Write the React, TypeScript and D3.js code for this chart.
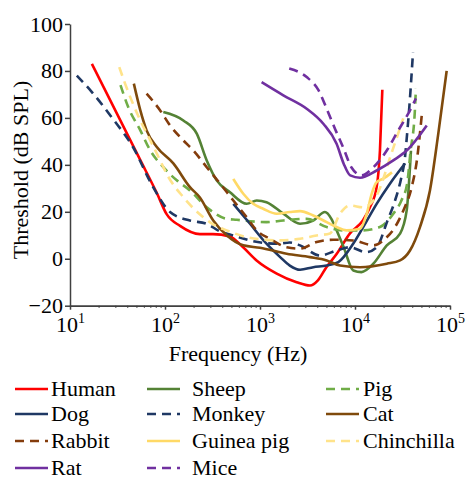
import React, { useEffect, useRef } from 'react';
import * as d3 from 'd3';

// --- data: [frequency Hz, threshold dB SPL] ---
const human = [[17, 83], [55, 42], [82, 28], [104, 19], [144, 14], [233, 10.5], [320, 10.5], [480, 9.5], [660, 5], [920, -0.7], [1500, -6.3], [2430, -10], [3360, -11.4], [4070, -9.2], [5000, -3.6], [6400, 2], [8850, 10.8], [12100, 16.3], [14400, 22], [16900, 30.5], [18300, 46], [19400, 72]];
const dog = [[524, 23.4], [785, 14.9], [1170, 6.4], [1630, 0.7], [2060, -2.9], [2640, -4.7], [3640, -3.6], [5035, -2.9], [6680, -1.4], [9600, 6.5], [12200, 13.5], [16900, 23.4], [23400, 32.1], [33600, 40.6]];
const rabbit = [[64, 70.3], [89, 63.2], [113, 56.8], [156, 50.4], [199, 46.1], [275, 39], [380, 32], [524, 24.8], [724, 17.7], [923, 12.1], [1270, 8.5], [1910, 4.9], [2640, 4.3], [3940, 7.1], [5900, 8.1], [9600, 7.8], [15600, 5.7], [20700, 8.5], [26400, 13.5], [32300, 20.6], [39500, 30.5], [44800, 41.9], [50600, 61.8]];
const rat = [[1040, 75.2], [1760, 69.6], [3100, 63.9], [4640, 57.5], [6400, 49], [7600, 40.5], [8900, 35.5], [11300, 34.5], [16900, 37.6], [25300, 41.9], [35000, 46.1], [56900, 56.8]];
const sheep = [[96, 62.5], [156, 58.9], [216, 53.3], [275, 41.9], [350, 33.4], [483, 28.3], [724, 23.4], [923, 24.8], [1170, 24.1], [1760, 19.2], [2640, 14.9], [3640, 16.3], [4830, 19.9], [5640, 17], [6400, 12.1], [7600, 4.9], [9600, -5], [11700, -5.7], [15600, -2.1], [21600, 5.7], [29800, 10.7], [35000, 20.6], [38800, 46]];
const monkey = [[11.8, 78], [17, 71], [28, 59.8], [46, 47.6], [75, 30.5], [113, 19.9], [183, 16.3], [275, 14.9], [380, 11.6], [524, 9.9], [785, 7.8], [1500, 6.4], [2060, 6.9], [2640, 5.7], [4270, 1.4], [6400, 3.5], [8850, 4.9], [13100, 2.8], [16900, 4.9], [22000, 16.3], [26400, 24.8], [30800, 34.8], [33600, 43.3], [35400, 53.4], [37300, 64.6], [40800, 88]];
const guineaPig = [[524, 34], [667, 27.7], [848, 23.4], [1080, 21.3], [1500, 19.2], [2060, 19.9], [2640, 20.3], [3640, 18.4], [5035, 15.6], [6400, 13.5], [8150, 12.1], [11300, 12.8], [13300, 19.2], [15000, 27.7], [16900, 32.6], [19800, 34.1], [24500, 36.8]];
const mice = [[2030, 81], [3100, 77.4], [4140, 71.7], [5035, 63.9], [6150, 55.4], [7600, 46.9], [9150, 39], [11800, 35.5], [15100, 38.4], [21600, 46.1], [27400, 53.4], [39500, 64.6], [43800, 68.3]];
const pig = [[34, 74], [41, 64.6], [55, 54.7], [70, 46.1], [96, 39], [133, 33.4], [183, 29.1], [275, 21.9], [446, 17], [570, 16.6], [785, 16], [1170, 15.6], [1760, 16.3], [3100, 17], [5035, 13.5], [7900, 12], [12200, 12.1], [18300, 13.5], [25300, 19.2], [30800, 24.8], [35400, 32], [38500, 46.1], [42500, 61.8], [43800, 72.6]];
const cat = [[47, 74.6], [55, 63.2], [64, 54.7], [82, 47.6], [123, 40.5], [183, 30.5], [233, 26.1], [322, 16.3], [446, 10], [667, 5.7], [1000, 4.7], [1910, 2.1], [3360, 0.7], [5035, -0.7], [6950, -2.9], [11300, -3.6], [21600, -2.1], [29800, -0.7], [37900, 3.5], [48300, 13.5], [61500, 29.1], [75300, 53.3], [92200, 80]];
const chinchilla = [[33, 81.6], [38, 74.6], [55, 58.9], [70, 50.4], [89, 41.9], [104, 36.2], [156, 26.2], [253, 17.7], [322, 14.6], [446, 12.1], [724, 9.2], [1080, 8.2], [1500, 7.8], [2640, 8.5], [3940, 9.9], [5450, 10.8], [6950, 19.2], [8850, 22.7], [12200, 21.9], [16900, 27], [24200, 44.9], [32200, 59.8]];

const freqTicks = [10, 100, 1000, 10000, 100000];
const freqExponents = ['1', '2', '3', '4', '5'];
const dbTicks = [-20, 0, 20, 40, 60, 80, 100];

// legend is laid out row by row, three per row
const series = [
  { name: 'Human', data: human, color: '#FF0000', dashed: false },
  { name: 'Sheep', data: sheep, color: '#548235', dashed: false },
  { name: 'Pig', data: pig, color: '#70AD47', dashed: true },
  { name: 'Dog', data: dog, color: '#1F3864', dashed: false },
  { name: 'Monkey', data: monkey, color: '#1F3864', dashed: true },
  { name: 'Cat', data: cat, color: '#7F4A0C', dashed: false },
  { name: 'Rabbit', data: rabbit, color: '#843C0C', dashed: true },
  { name: 'Guinea pig', data: guineaPig, color: '#FFD966', dashed: false },
  { name: 'Chinchilla', data: chinchilla, color: '#FFE38A', dashed: true },
  { name: 'Rat', data: rat, color: '#7030A0', dashed: false },
  { name: 'Mice', data: mice, color: '#7030A0', dashed: true },
];

const FONT = "'Liberation Serif', 'Times New Roman', serif";

const App = () => {
  const ref = useRef(null);

  useEffect(() => {
    const svg = d3.select(ref.current);
    svg.selectAll('*').remove();

    const x = d3.scaleLog().domain([10, 100000]).range([70, 450]);
    const y = d3.scaleLinear().domain([-20, 100]).range([305.7, 24]);

    // y axis
    const yAxis = svg.append('g').attr('transform', 'translate(70,0)')
      .call(d3.axisLeft(y).tickValues(dbTicks).tickSize(5).tickSizeOuter(0).tickPadding(2));
    yAxis.attr('font-family', null).attr('font-size', null);
    yAxis.selectAll('text').attr('fill', '#000');
    yAxis.selectAll('line, path').attr('stroke', '#404040').attr('stroke-width', 1.5);

    // x axis: minor ticks then majors with superscript labels
    const minor = [];
    for (let d = 10; d < 100000; d *= 10) for (let k = 2; k <= 9; k++) minor.push(d * k);
    const xMinor = svg.append('g').attr('transform', 'translate(0,305.7)')
      .call(d3.axisBottom(x).tickValues(minor).tickSize(2).tickSizeOuter(0).tickFormat(() => ''));
    xMinor.selectAll('line, path').attr('stroke', '#404040').attr('stroke-width', 1.2);
    const xAxis = svg.append('g').attr('transform', 'translate(0,305.7)')
      .call(d3.axisBottom(x).tickValues(freqTicks).tickSize(4).tickSizeOuter(0).tickFormat(() => ''));
    xAxis.attr('font-family', null).attr('font-size', null);
    xAxis.selectAll('line, path').attr('stroke', '#404040').attr('stroke-width', 1.5);
    xAxis.selectAll('.tick').each(function (d, i) {
      const t = d3.select(this).append('text')
        .attr('y', 26).attr('text-anchor', 'middle').attr('fill', '#000');
      t.append('tspan').text('10');
      t.append('tspan').attr('dy', -9).style('font-size', '14px').text(freqExponents[i]);
    });

    // axis titles
    svg.append('text').attr('x', 238).attr('y', 361).attr('text-anchor', 'middle')
      .text('Frequency (Hz)');
    svg.append('text').attr('transform', 'translate(28,170) rotate(-90)').attr('text-anchor', 'middle')
      .text('Threshold (dB SPL)');

    // curves
    const line = d3.line().x(d => x(d[0])).y(d => y(d[1])).curve(d3.curveMonotoneX);
    svg.append('g').selectAll('path').data(series).enter().append('path')
      .attr('d', s => line(s.data))
      .attr('fill', 'none')
      .attr('stroke', s => s.color)
      .attr('stroke-width', 2.6)
      .attr('stroke-dasharray', s => (s.dashed ? '9,6' : null));

    // legend
    const colX = [15, 147, 326];
    const textX = [51, 192, 363];
    const rowY = [389, 414, 441, 468];
    const legend = svg.append('g').selectAll('g').data(series).enter().append('g')
      .attr('transform', (s, i) => `translate(0,${rowY[Math.floor(i / 3)]})`);
    legend.append('line')
      .attr('x1', (s, i) => colX[i % 3]).attr('x2', (s, i) => colX[i % 3] + 33)
      .attr('stroke', s => s.color).attr('stroke-width', 2.6)
      .attr('stroke-dasharray', s => (s.dashed ? '9,6' : null));
    legend.append('text')
      .attr('x', (s, i) => textX[i % 3]).attr('dy', '0.33em').attr('fill', '#000')
      .text(s => s.name);
  }, []);

  return (
    <svg ref={ref} width={468} height={478}
      style={{ position: 'absolute', left: 0, top: 0, background: '#fff', fontFamily: FONT, fontSize: '22px' }} />
  );
};

export default App;
